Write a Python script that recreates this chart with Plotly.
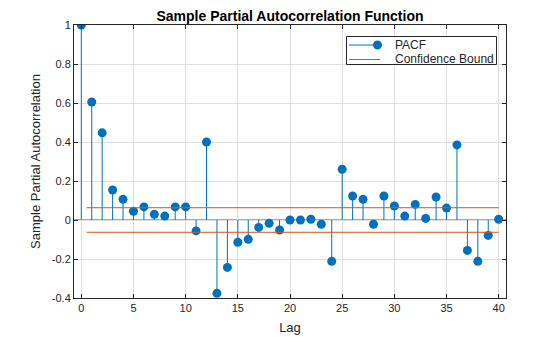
import plotly.graph_objects as go

lags = list(range(41))
pacf = [1.0, 0.605, 0.447, 0.154, 0.106, 0.045, 0.067, 0.029, 0.020, 0.067,
        0.067, -0.056, 0.400, -0.376, -0.243, -0.114, -0.099, -0.038, -0.017, -0.051,
        0.0, 0.0, 0.004, -0.022, -0.212, 0.260, 0.123, 0.106, -0.022, 0.123,
        0.072, 0.020, 0.080, 0.008, 0.118, 0.061, 0.385, -0.156, -0.212, -0.079,
        0.004]
bound = 0.063
bound_x = [0.5, 40]
xticks = [0, 5, 10, 15, 20, 25, 30, 35, 40]
yticks = [-0.4, -0.2, 0, 0.2, 0.4, 0.6, 0.8, 1]
ytext = ["-0.4", "-0.2", "0", "0.2", "0.4", "0.6", "0.8", "1"]
legend_names = ["PACF", "Confidence Bound"]

blue = "#0072BD"
orange = "#D95319"

W, H = 560, 337
ML, MR, MT, MB = 74, 54, 25, 39
PW, PH = W - ML - MR, H - MT - MB


def px(x):
    return (x - ML) / PW


def py(y):
    return (H - MB - y) / PH


sx, sy = [], []
for l, v in zip(lags, pacf):
    sx += [l, l, None]
    sy += [0, v, None]

fig = go.Figure()
fig.add_trace(go.Scatter(x=sx, y=sy, mode="lines", line=dict(color=blue, width=1),
                         showlegend=False, hoverinfo="skip"))
fig.add_trace(go.Scatter(x=lags, y=pacf, mode="markers", name=legend_names[0],
                         marker=dict(color=blue, size=9), showlegend=False))
fig.add_trace(go.Scatter(x=bound_x, y=[bound, bound], mode="lines", name=legend_names[1],
                         line=dict(color=orange, width=1), showlegend=False))
fig.add_trace(go.Scatter(x=bound_x, y=[-bound, -bound], mode="lines", showlegend=False,
                         line=dict(color=orange, width=1)))

fig.add_shape(type="line", xref="paper", yref="y", x0=0, x1=1, y0=0, y1=0,
              line=dict(color="#555555", width=1), layer="below")

# legend box (drawn manually to match compact MATLAB legend)
fig.add_shape(type="rect", xref="paper", yref="paper", x0=px(346.5), x1=px(496.5),
              y0=py(64.5), y1=py(36.5), line=dict(color="#262626", width=1),
              fillcolor="white", layer="above")
fig.add_shape(type="line", xref="paper", yref="paper", x0=px(349), x1=px(378),
              y0=py(45), y1=py(45), line=dict(color=blue, width=1), layer="above")
fig.add_shape(type="circle", xref="paper", yref="paper", xsizemode="pixel", ysizemode="pixel",
              xanchor=px(377.5), yanchor=py(45), x0=-4.5, x1=4.5, y0=-4.5, y1=4.5,
              fillcolor=blue, line=dict(color=blue, width=0), layer="above")
fig.add_shape(type="line", xref="paper", yref="paper", x0=px(349), x1=px(380),
              y0=py(59.5), y1=py(59.5), line=dict(color=orange, width=1), layer="above")
for name, yy in zip(legend_names, [45, 59]):
    fig.add_annotation(text=name, xref="paper", yref="paper", x=px(393), y=py(yy),
                       xanchor="left", yanchor="middle", showarrow=False,
                       font=dict(size=12, color="#262626"))

font = "Liberation Sans, Arial, sans-serif"
fig.update_layout(
    width=W, height=H,
    margin=dict(l=ML, r=MR, t=MT, b=MB),
    paper_bgcolor="white", plot_bgcolor="white",
    font=dict(family=font, size=11, color="#262626"),
    showlegend=False,
    title=dict(text="<b>Sample Partial Autocorrelation Function</b>", x=0.5, xref="paper",
               xanchor="center", y=1, yref="paper", yanchor="bottom", pad=dict(b=4),
               font=dict(size=14, color="#000000")),
    xaxis=dict(range=[-0.7, 40.7], tickvals=xticks, ticktext=[str(t) for t in xticks],
               showgrid=True, gridcolor="#dfdfdf", gridwidth=1, automargin=False,
               ticks="inside", ticklen=4, tickcolor="#262626", mirror="ticks",
               showline=True, linecolor="#262626", linewidth=1, zeroline=False,
               title=dict(text="Lag", font=dict(size=13), standoff=9)),
    yaxis=dict(range=[-0.4, 1], tickvals=yticks, ticktext=ytext,
               showgrid=True, gridcolor="#dfdfdf", gridwidth=1, automargin=False,
               ticks="inside", ticklen=4, tickcolor="#262626", mirror="ticks",
               showline=True, linecolor="#262626", linewidth=1, zeroline=False,
               title=dict(text="Sample Partial Autocorrelation", font=dict(size=13), standoff=8)),
)

fig.write_html("out.html")
